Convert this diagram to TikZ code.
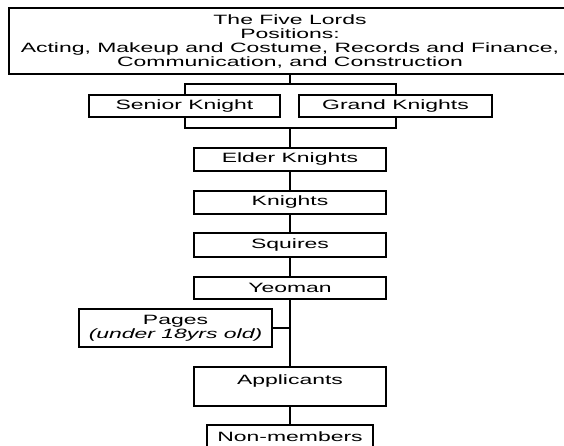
\documentclass[tikz,border=0pt]{standalone}
\usepackage{fontspec}
\setmainfont{Liberation Sans}[FakeStretch=1.7]
\begin{document}
\begin{tikzpicture}[x=1bp,y=-1bp,
  box/.style={draw=black, line width=2.3bp, fill=white, inner sep=0pt, align=center,
    font=\fontsize{13.5bp}{14bp}\selectfont},
  link/.style={draw=black, line width=2bp}]
\useasboundingbox (0,0) rectangle (564,446);
\fill[white] (0,0) rectangle (564,446);
\clip (0,0) rectangle (564,446);
\coordinate (j1) at (290,84);
\coordinate (j2) at (290,128);
\node[box, minimum width=562bp, minimum height=66bp, line width=2.6bp] (top) at (290,41)
  {The Five Lords\\Positions:\\Acting, Makeup and Costume, Records and Finance,\\Communication, and Construction};
\node[box, minimum width=191bp, minimum height=22bp] (senior) at (184.5,106) {Senior Knight};
\node[box, minimum width=193bp, minimum height=22bp] (grand) at (395.5,106) {Grand Knights};
\node[box, minimum width=192bp, minimum height=23bp] (elder) at (290,159.5) {Elder Knights};
\node[box, minimum width=192bp, minimum height=23bp] (knights) at (290,202.5) {Knights};
\node[box, minimum width=192bp, minimum height=24bp] (squires) at (290,245) {Squires};
\node[box, minimum width=192bp, minimum height=22bp] (yeoman) at (290,288) {Yeoman};
\node[box, minimum width=193bp, minimum height=38bp] (pages) at (175.5,328)
  {Pages\\\itshape (under 18yrs old)};
\node[box, minimum width=192bp, minimum height=39bp] (applicants) at (290,386.5)
  {Applicants\\\mbox{}};
\node[box, minimum width=166bp, minimum height=24bp] (nonmembers) at (290,437) {Non-members};
% connectors
\draw[link] (top.south) -- (j1);
\draw[link] (senior.north) -- (senior.north |- j1) -- (grand.north |- j1) -- (grand.north);
\draw[link] (senior.south) -- (senior.south |- j2) -- (grand.south |- j2) -- (grand.south);
\draw[link] (j2) -- (elder.north);
\draw[link] (elder.south) -- (knights.north);
\draw[link] (knights.south) -- (squires.north);
\draw[link] (squires.south) -- (yeoman.north);
\draw[link] (yeoman.south) -- (applicants.north);
\draw[link] (pages.east) -- (pages.east -| yeoman.south);
\draw[link] (applicants.south) -- (nonmembers.north);
\end{tikzpicture}
\end{document}
